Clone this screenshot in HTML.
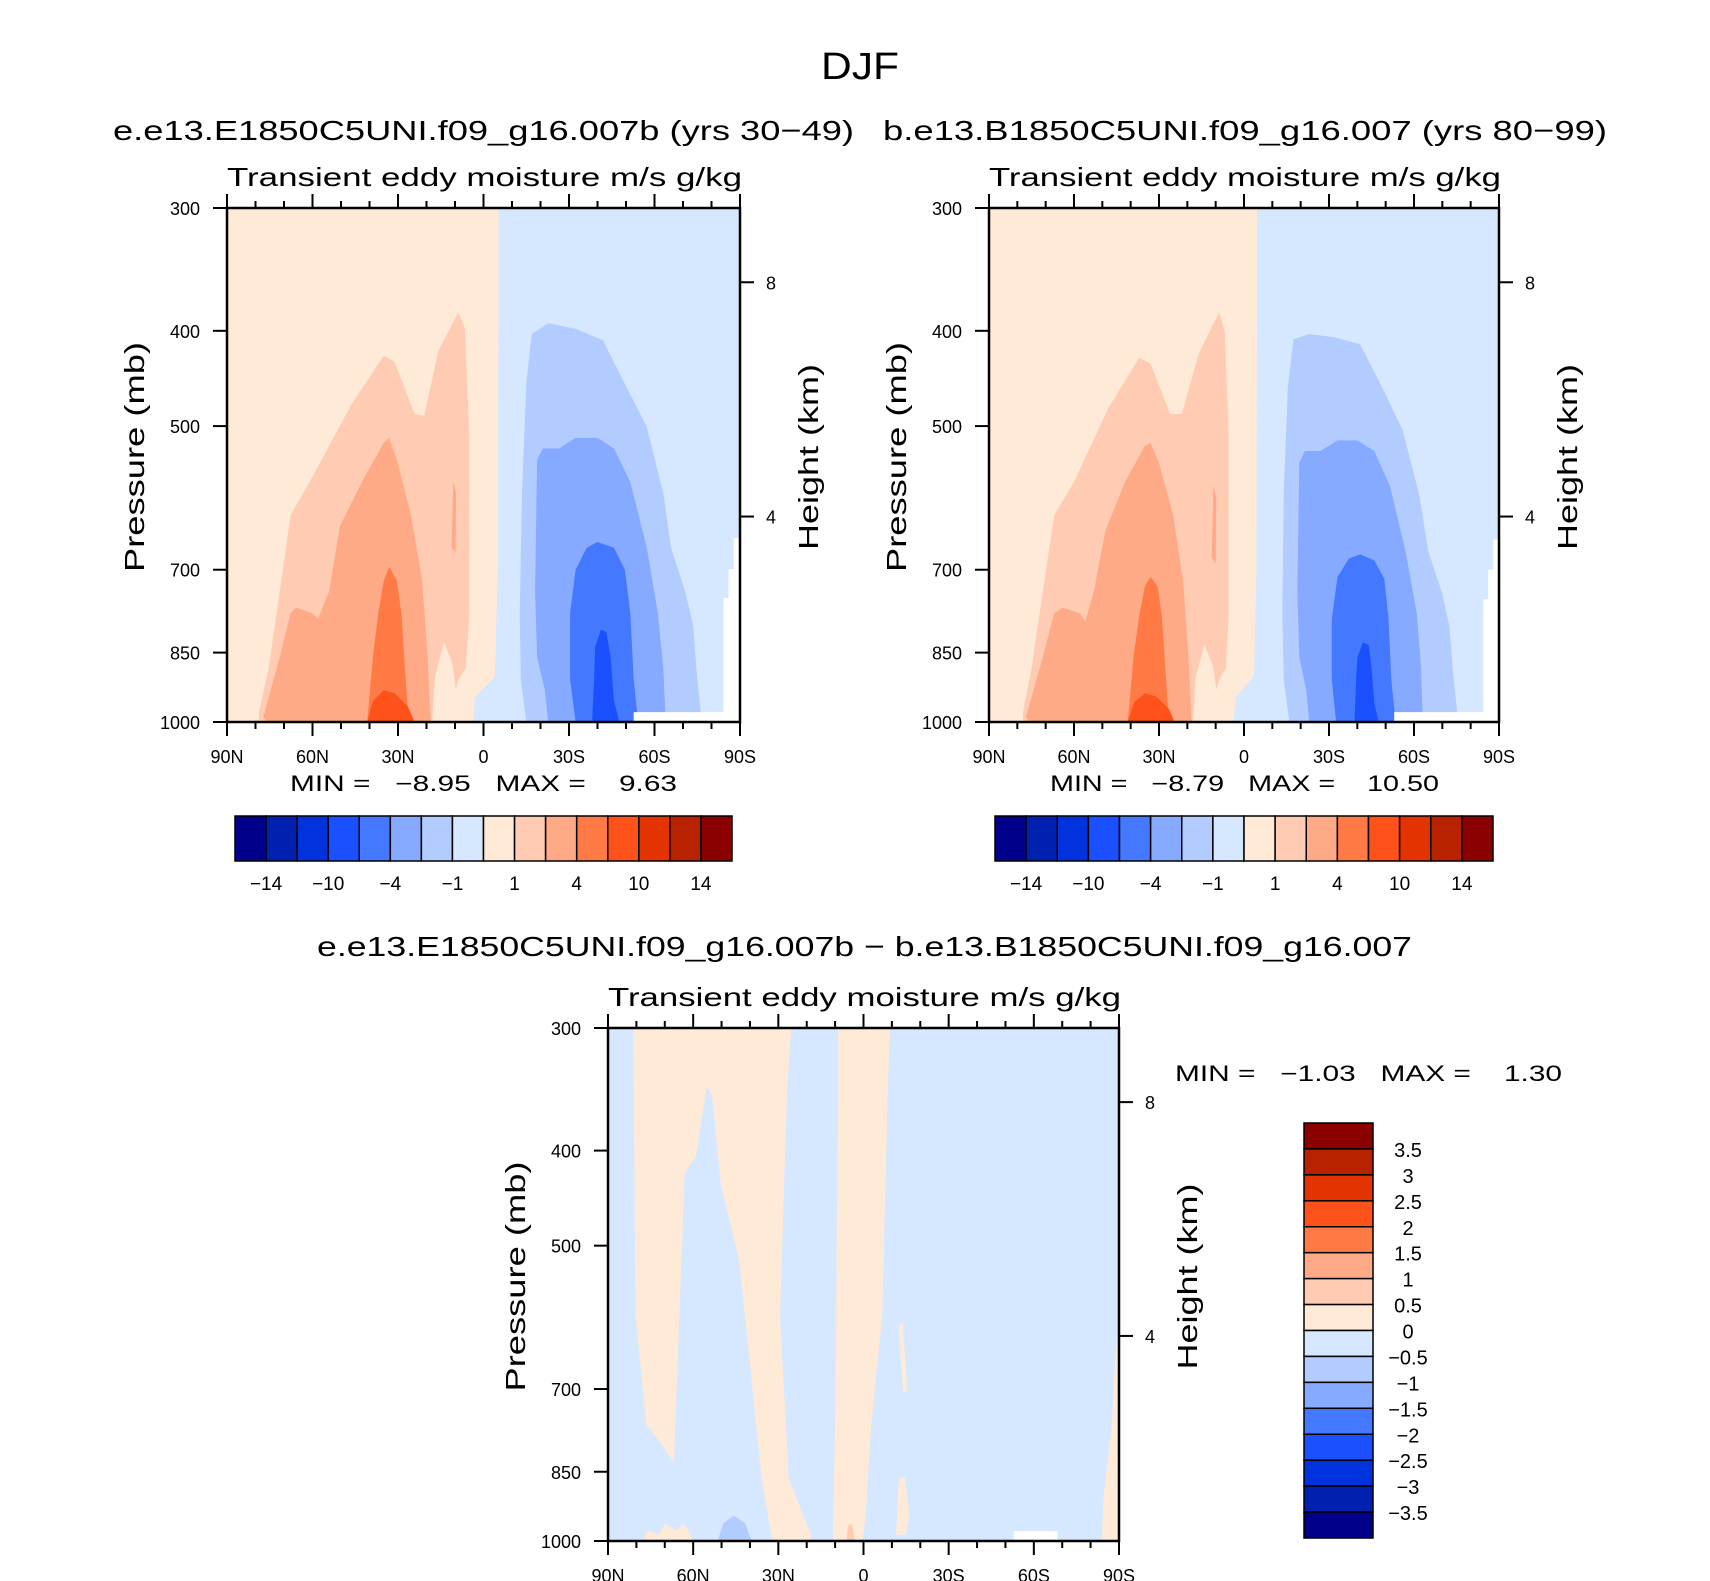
<!DOCTYPE html>
<html><head><meta charset="utf-8">
<style>
html,body{margin:0;padding:0;background:#fff;}
svg{display:block;font-family:"Liberation Sans",sans-serif;}
</style></head>
<body>
<svg id="fig" width="1710" height="1581" viewBox="0 0 1710 1581" xmlns="http://www.w3.org/2000/svg">
<text x="860" y="79" font-size="38" text-anchor="middle" textLength="78" lengthAdjust="spacingAndGlyphs">DJF</text>
<text x="113" y="140" font-size="28" textLength="741" lengthAdjust="spacingAndGlyphs">e.e13.E1850C5UNI.f09_g16.007b (yrs 30−49)</text>
<text x="883" y="140" font-size="28" textLength="724" lengthAdjust="spacingAndGlyphs">b.e13.B1850C5UNI.f09_g16.007 (yrs 80−99)</text>
<text x="317" y="956" font-size="28" textLength="1095" lengthAdjust="spacingAndGlyphs">e.e13.E1850C5UNI.f09_g16.007b − b.e13.B1850C5UNI.f09_g16.007</text>
<g id="p1"></g>
<g id="p2"></g>
<g id="p3"></g>
<g id="cbars"></g>
</svg>
<script>
const NS="http://www.w3.org/2000/svg";
// colour levels (blue → red)
const levelColors=["#00008A","#0020B0","#0033DD","#1A50FF","#4479FF","#86AAFF","#B3CCFF","#D6E8FF","#FFEAD7","#FFCCB3","#FFAA86","#FF7A45","#FF521A","#E33300","#B82200","#8B0000"];
const cbLabels12=["−14","−10","−4","−1","1","4","10","14"];
const cbLabels3=["3.5","3","2.5","2","1.5","1","0.5","0","−0.5","−1","−1.5","−2","−2.5","−3","−3.5"];
const latTicks=[90,60,30,0,-30,-60,-90];
const latTickLabels=["90N","60N","30N","0","30S","60S","90S"];
const presTicks=[300,400,500,700,850,1000];
const heightTicks=[8,4];
const heightTickPres=[357,618];
const minmax1=["−8.95","9.63"];
const minmax2=["−8.79","10.50"];
const minmax3=["−1.03","1.30"];

// Panel 1 contours [lat, pressure]
const p1Pos0=[[90,300],[-5.3,300],[-5,700],[-4,899],[3,944],[3.7,1000],[90,1000]];
const p1Pos1=[[78.8,977],[75.4,882],[71.5,737],[67.7,616],[60,563],[46.5,476],[35,424],[31.2,430],[24.2,486],[20.8,488],[15.8,419],[8.8,383],[6.5,398],[5,514],[5,775],[6.2,882],[8.8,905],[10.8,952],[11.9,1000],[78.8,1000]];
const p1Gap=[[13.9,829],[11,870],[9,960],[8,1000],[18,1000],[17,900]];
const p1Pos2=[[77.3,990],[71.5,859],[67.7,775],[65.8,765],[60,775],[58.1,785],[54.2,737],[50.4,632],[42.7,570],[35,520],[33.1,514],[30.4,541],[25.4,616],[21.5,718],[19.6,859],[18.5,1000],[75.4,1000]];
const p1Tongue=[[11.2,665],[10.6,570],[9.6,585],[9.8,672]];
const p1Pos3=[[40.8,1000],[38.8,859],[36.9,775],[35,718],[33.1,695],[30.4,718],[28.8,775],[27.3,905],[26.2,1000]];
const p1Pos4=[[40.8,1000],[38.8,952],[35,928],[31.2,935],[26.5,965],[24.2,1000]];
const p1Neg1=[[-15,1000],[-13.1,905],[-12.7,775],[-13.5,585],[-15,453],[-16.9,403],[-22.7,393],[-32.3,398],[-41.9,409],[-49.6,453],[-57.3,501],[-63.1,585],[-65.8,665],[-70.8,737],[-73.5,796],[-75,905],[-76.5,990],[-76.5,1000]];
const p1Neg2=[[-22.7,1000],[-21.5,928],[-18.8,859],[-18.1,737],[-18.8,541],[-20.8,527],[-26.5,527],[-32.3,514],[-40,514],[-45.8,527],[-51.5,570],[-57.3,665],[-61.2,775],[-63.1,882],[-63.8,977],[-63.8,1000]];
const p1Neg3=[[-32.3,1000],[-30.4,905],[-30.4,775],[-32.3,700],[-36.2,665],[-40,656],[-45.8,665],[-49.6,700],[-51.5,775],[-52.7,905],[-54.2,1000]];
const p1Neg4=[[-38.1,1000],[-38.8,905],[-39.2,838],[-41.2,806],[-43.1,810],[-44.6,859],[-45.8,952],[-47.7,1000]];
const p1Missing=[[-52.7,1000],[-52.7,977],[-84.2,977],[-84.2,748],[-86,748],[-86,699],[-87.8,699],[-87.8,650],[-90,650],[-90,1000]];

// Panel 2 contours
const p2Pos0=[[90,300],[-4.6,300],[-4.4,700],[-3.5,899],[3,944],[3.7,1000],[90,1000]];
const p2Pos1=[[78,977],[75,882],[71,737],[67,616],[60,570],[48,480],[37,426],[33,432],[26,486],[22,486],[16,422],[8.8,383],[6.8,400],[5.4,514],[5.4,775],[6.4,882],[8.8,905],[10.8,952],[11.9,1000],[78,1000]];
const p2Gap=[[14,835],[11,875],[9,960],[8,1000],[18,1000],[17,900]];
const p2Pos2=[[77,990],[71,859],[67,775],[64,765],[58,775],[56,790],[53,737],[49,640],[42,570],[35,524],[33,520],[30,545],[25,616],[21.5,718],[19.6,859],[18.5,1000],[75,1000]];
const p2Tongue=[[11.4,680],[10.8,575],[9.8,590],[10,690]];
const p2Pos3=[[41,1000],[39,859],[37,780],[35,728],[33,712],[30.5,728],[29,780],[27.5,905],[26.5,1000]];
const p2Pos4=[[41,1000],[38.8,955],[35,935],[31,942],[26.5,970],[24.5,1000]];
const p2Blip=[[3,1000],[2,957],[-1,950],[-4,962],[-4,1000]];
const p2Neg1=[[-16,1000],[-14,905],[-13.5,775],[-14,585],[-15.5,455],[-17.5,408],[-23,403],[-32,406],[-41,413],[-49,458],[-56,505],[-62,590],[-65,670],[-70,740],[-72.5,800],[-74,905],[-75.5,990],[-75.5,1000]];
const p2Neg2=[[-23,1000],[-22,928],[-19.5,859],[-18.8,737],[-19.5,545],[-21.5,530],[-27,530],[-33,517],[-40,517],[-46,530],[-51.5,575],[-57,670],[-61,775],[-62.5,882],[-63,977],[-63,1000]];
const p2Neg3=[[-32.5,1000],[-31,905],[-31,785],[-33,712],[-37,682],[-41,675],[-46,685],[-49.5,715],[-51,785],[-52,905],[-53.5,1000]];
const p2Neg4=[[-39,1000],[-39.5,915],[-40,860],[-42,830],[-44,835],[-45,880],[-46,955],[-47.5,1000]];
const p2Missing=[[-53,1000],[-53,977],[-84.5,977],[-84.5,750],[-86.2,750],[-86.2,700],[-88,700],[-88,652],[-90,652],[-90,1000]];

// Panel 3 contours (difference)
const p3PosA=[[81.1,300],[25.5,300],[27,352],[29.4,589],[26.3,864],[18.5,985],[18.5,1000],[32.1,1000],[35.9,864],[39.8,668],[43.7,519],[50.2,434],[53.3,352],[55.2,344],[59.1,406],[63,422],[64.9,589],[66.8,833],[70.7,800],[76.5,761],[80.3,589]];
const p3BlobA=[[78,1000],[76,975],[72,985],[70,960],[66,975],[63,960],[60,1000]];
const p3PosB=[[8.9,300],[-9.3,300],[-8.5,352],[-6.6,589],[-2.7,761],[-0.8,939],[0.4,1000],[10.8,1000],[10,761],[8.9,352]];
const p3Spot1=[[-12.4,605],[-13.8,598],[-15.4,702],[-14,706]];
const p3Spot2=[[-11.5,985],[-12.4,864],[-14.5,860],[-16.2,939],[-15,985]];
const p3Edge=[[-84,1000],[-84.5,900],[-86,830],[-87.5,761],[-88.7,650],[-90,600],[-90,1000]];
const p3Neg=[[51.4,1000],[49.4,959],[45.6,942],[41.7,959],[39.4,1000]];
const p3Dot=[[6,1000],[5.5,965],[4,960],[3,1000]];
const p3Missing=[[-52.9,1000],[-52.9,977],[-68.4,977],[-68.4,1000]];

function el(tag,attrs,parent){const e=document.createElementNS(NS,tag);for(const k in attrs)e.setAttribute(k,attrs[k]);parent.appendChild(e);return e;}

function panel(gid,geo,layers,minmax,mmPos){
  const g=document.getElementById(gid);
  const xs=lat=>geo.x0+(90-lat)/180*(geo.x1-geo.x0);
  const ys=p=>geo.y1-Math.log(1000/p)/Math.log(1000/300)*(geo.y1-geo.y0);
  const bg=el('rect',{x:geo.x0,y:geo.y0,width:geo.x1-geo.x0,height:geo.y1-geo.y0,fill:levelColors[7]},g);
  
  
  layers.forEach(L=>{
    const d=L.pts.map((q,i)=>(i?'L':'M')+xs(q[0]).toFixed(1)+','+ys(q[1]).toFixed(1)).join('')+'Z';
    const p=el('path',{d:d,fill:L.c},g);
    
    
  });
  const frame=el('rect',{x:geo.x0,y:geo.y0,width:geo.x1-geo.x0,height:geo.y1-geo.y0,fill:'none',stroke:'#000','stroke-width':2.5},g);
  
  
  for(let lat=90;lat>=-90;lat-=10){
    const major=lat%30===0, x=xs(lat), L=major?14:7;
    el('line',{x1:x,x2:x,y1:geo.y1,y2:geo.y1+L,stroke:'#000','stroke-width':2},g);
    el('line',{x1:x,x2:x,y1:geo.y0,y2:geo.y0-L,stroke:'#000','stroke-width':2},g);
  }
  latTicks.forEach((lat,i)=>{
    const t=el('text',{x:xs(lat),y:geo.y1+41,'font-size':18,'text-anchor':'middle'},g);
    t.textContent=latTickLabels[i];
    
    
  });
  presTicks.forEach(p=>{
    const y=ys(p);
    el('line',{x1:geo.x0-14,x2:geo.x0,y1:y,y2:y,stroke:'#000','stroke-width':2},g);
    const t=el('text',{x:geo.x0-27,y:y+7,'font-size':18,'text-anchor':'end'},g);
    t.textContent=p;
    
    
  });
  heightTicks.forEach((h,i)=>{
    const y=ys(heightTickPres[i]);
    el('line',{x1:geo.x1,x2:geo.x1+14,y1:y,y2:y,stroke:'#000','stroke-width':2},g);
    const t=el('text',{x:geo.x1+26,y:y+7,'font-size':18},g);
    t.textContent=h;
    
    
  });
  const cy=(geo.y0+geo.y1)/2-8;
  const pt=el('text',{x:0,y:0,'font-size':28,'text-anchor':'middle',transform:`translate(${geo.x0-83},${cy}) rotate(-90)`,textLength:230,lengthAdjust:'spacingAndGlyphs'},g);
  pt.textContent='Pressure (mb)';
  
  
  const ht=el('text',{x:0,y:0,'font-size':28,'text-anchor':'middle',transform:`translate(${geo.x1+78},${cy}) rotate(-90)`,textLength:186,lengthAdjust:'spacingAndGlyphs'},g);
  ht.textContent='Height (km)';
  
  
  const st=el('text',{x:geo.x0,y:geo.y0-22,'font-size':26,textLength:geo.x1-geo.x0+2,lengthAdjust:'spacingAndGlyphs'},g);
  st.textContent='Transient eddy moisture m/s g/kg';
  
  
  const mm=el('text',{x:mmPos[0],y:mmPos[1],'font-size':22,style:'white-space:pre',textLength:mmPos[2],lengthAdjust:'spacingAndGlyphs'},g);
  mm.textContent='MIN =   '+minmax[0]+'   MAX =    '+minmax[1];
  
  
}

const C=levelColors;
panel('p1',{x0:227,x1:740,y0:208,y1:722},[
 {n:'contour-0-1',c:C[8],pts:p1Pos0},{n:'contour-1-2',c:C[9],pts:p1Pos1},{n:'contour-gap',c:C[8],pts:p1Gap},
 {n:'contour-2-4',c:C[10],pts:p1Pos2},{n:'contour-tongue',c:C[10],pts:p1Tongue},{n:'contour-4-8',c:C[11],pts:p1Pos3},
 {n:'contour-8-10',c:C[12],pts:p1Pos4},{n:'contour-neg1',c:C[6],pts:p1Neg1},{n:'contour-neg2',c:C[5],pts:p1Neg2},
 {n:'contour-neg4',c:C[4],pts:p1Neg3},{n:'contour-neg8',c:C[3],pts:p1Neg4},{n:'missing-data',c:'#fff',pts:p1Missing}],minmax1,[290,791,387]);
panel('p2',{x0:989,x1:1499,y0:208,y1:722},[
 {n:'contour-0-1',c:C[8],pts:p2Pos0},{n:'contour-1-2',c:C[9],pts:p2Pos1},{n:'contour-gap',c:C[8],pts:p2Gap},
 {n:'contour-2-4',c:C[10],pts:p2Pos2},{n:'contour-tongue',c:C[10],pts:p2Tongue},{n:'contour-4-8',c:C[11],pts:p2Pos3},
 {n:'contour-8-10',c:C[12],pts:p2Pos4},{n:'contour-blip',c:C[7],pts:p2Blip},{n:'contour-neg1',c:C[6],pts:p2Neg1},{n:'contour-neg2',c:C[5],pts:p2Neg2},
 {n:'contour-neg4',c:C[4],pts:p2Neg3},{n:'contour-neg8',c:C[3],pts:p2Neg4},{n:'missing-data',c:'#fff',pts:p2Missing}],minmax2,[1050,791,389]);
panel('p3',{x0:608,x1:1119,y0:1028,y1:1541},[
 {n:'contour-pos-a',c:C[8],pts:p3PosA},{n:'contour-blob',c:C[8],pts:p3BlobA},{n:'contour-pos-b',c:C[8],pts:p3PosB},
 {n:'contour-spot1',c:C[8],pts:p3Spot1},{n:'contour-spot2',c:C[8],pts:p3Spot2},{n:'contour-edge',c:C[8],pts:p3Edge},
 {n:'contour-neg',c:C[6],pts:p3Neg},{n:'contour-dot',c:C[9],pts:p3Dot},{n:'missing-data',c:'#fff',pts:p3Missing}],minmax3,[1175,1081,387]);

// colorbars
const cb=document.getElementById('cbars');
function hbar(x0,x1,y0,y1){
  const w=(x1-x0)/levelColors.length;
  levelColors.forEach((c,i)=>{
    const r=el('rect',{x:x0+i*w,y:y0,width:w,height:y1-y0,fill:c,stroke:'#000','stroke-width':1.5},cb);
    
    
  });
  cbLabels12.forEach((s,i)=>{
    const t=el('text',{x:x0+(2*i+1)*w,y:y1+29,'font-size':19,'text-anchor':'middle'},cb);
    t.textContent=s;
    
    
  });
}
hbar(235,732,816,861);
hbar(995,1493,816,861);
(function(){
  const x0=1304,x1=1373,y0=1123,y1=1538,h=(y1-y0)/levelColors.length;
  levelColors.slice().reverse().forEach((c,i)=>{
    const r=el('rect',{x:x0,y:y0+i*h,width:x1-x0,height:h,fill:c,stroke:'#000','stroke-width':1.5},cb);
    
    
  });
  cbLabels3.forEach((s,i)=>{
    const t=el('text',{x:1408,y:y0+(i+1)*h+8,'font-size':20,'text-anchor':'middle'},cb);
    t.textContent=s;
    
    
  });
})();
</script>
</body></html>
